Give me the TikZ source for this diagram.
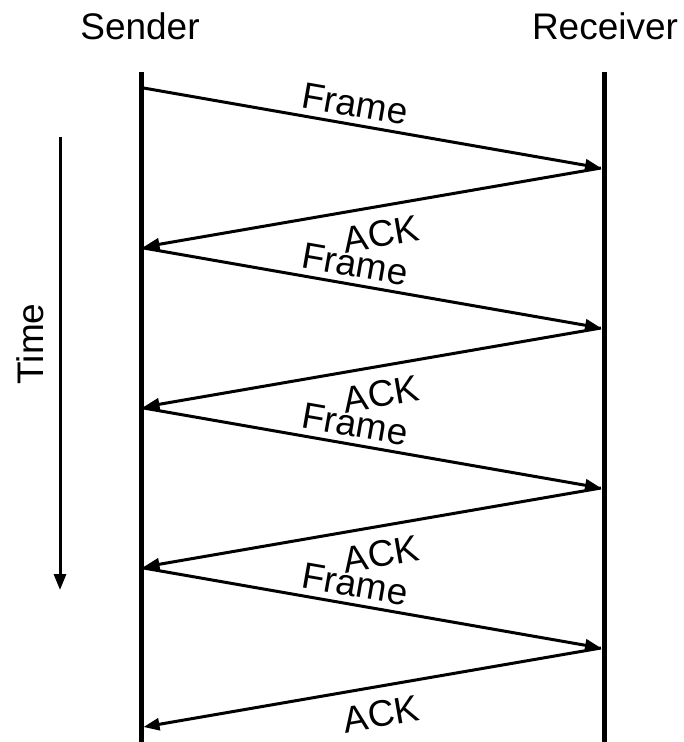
\documentclass[tikz,border=0pt]{standalone}
\usepackage{fontspec}
\setmainfont{Liberation Sans}
\usetikzlibrary{arrows.meta}
\begin{document}
\begin{tikzpicture}[x=1pt,y=-1pt,
  lifeline/.style={line width=5pt},
  msg/.style={line width=3pt,-{Triangle[length=16pt,width=12pt]}},
  lbl/.style={font=\fontsize{37}{42}\selectfont, inner sep=0pt}]
\useasboundingbox (0,0) rectangle (684,742);

% column headings
\node[lbl] (sender) at (140,26) {Sender};
\node[lbl] (receiver) at (605,26) {Receiver};

% lifelines
\coordinate (stop) at (141,72);
\coordinate (sbot) at (141,742);
\coordinate (rtop) at (604,72);
\coordinate (rbot) at (604,742);
\draw[lifeline] (stop) -- (sbot);
\draw[lifeline] (rtop) -- (rbot);

% time axis
\coordinate (ttop) at (60,137);
\coordinate (tbot) at (60,590);
\draw[msg] (ttop) -- (tbot);
\node[lbl, rotate=90] (time) at (30,344) {Time};

% frame / acknowledgement exchanges
\foreach \k in {0,1,2,3} {
  \pgfmathsetmacro\ya{88+160*\k}
  \pgfmathsetmacro\yb{168+160*\k}
  \pgfmathsetmacro\yc{247+160*\k}
  \pgfmathsetmacro\yf{104+160*\k}
  \pgfmathsetmacro\yk{234+160*\k}
  \coordinate (fs\k) at (143.5,\ya);
  \coordinate (fr\k) at (601,\yb);
  \coordinate (ar\k) at (601,\yb);
  \coordinate (as\k) at (143.5,\yc);
  \draw[msg] (fs\k) -- (fr\k);
  \draw[msg] (ar\k) -- (as\k);
  \node[lbl, rotate=-9.87] (frame\k) at (355,\yf) {Frame};
  \node[lbl, rotate=9.87] (ack\k) at (381,\yk) {ACK};
}
\end{tikzpicture}
\end{document}
